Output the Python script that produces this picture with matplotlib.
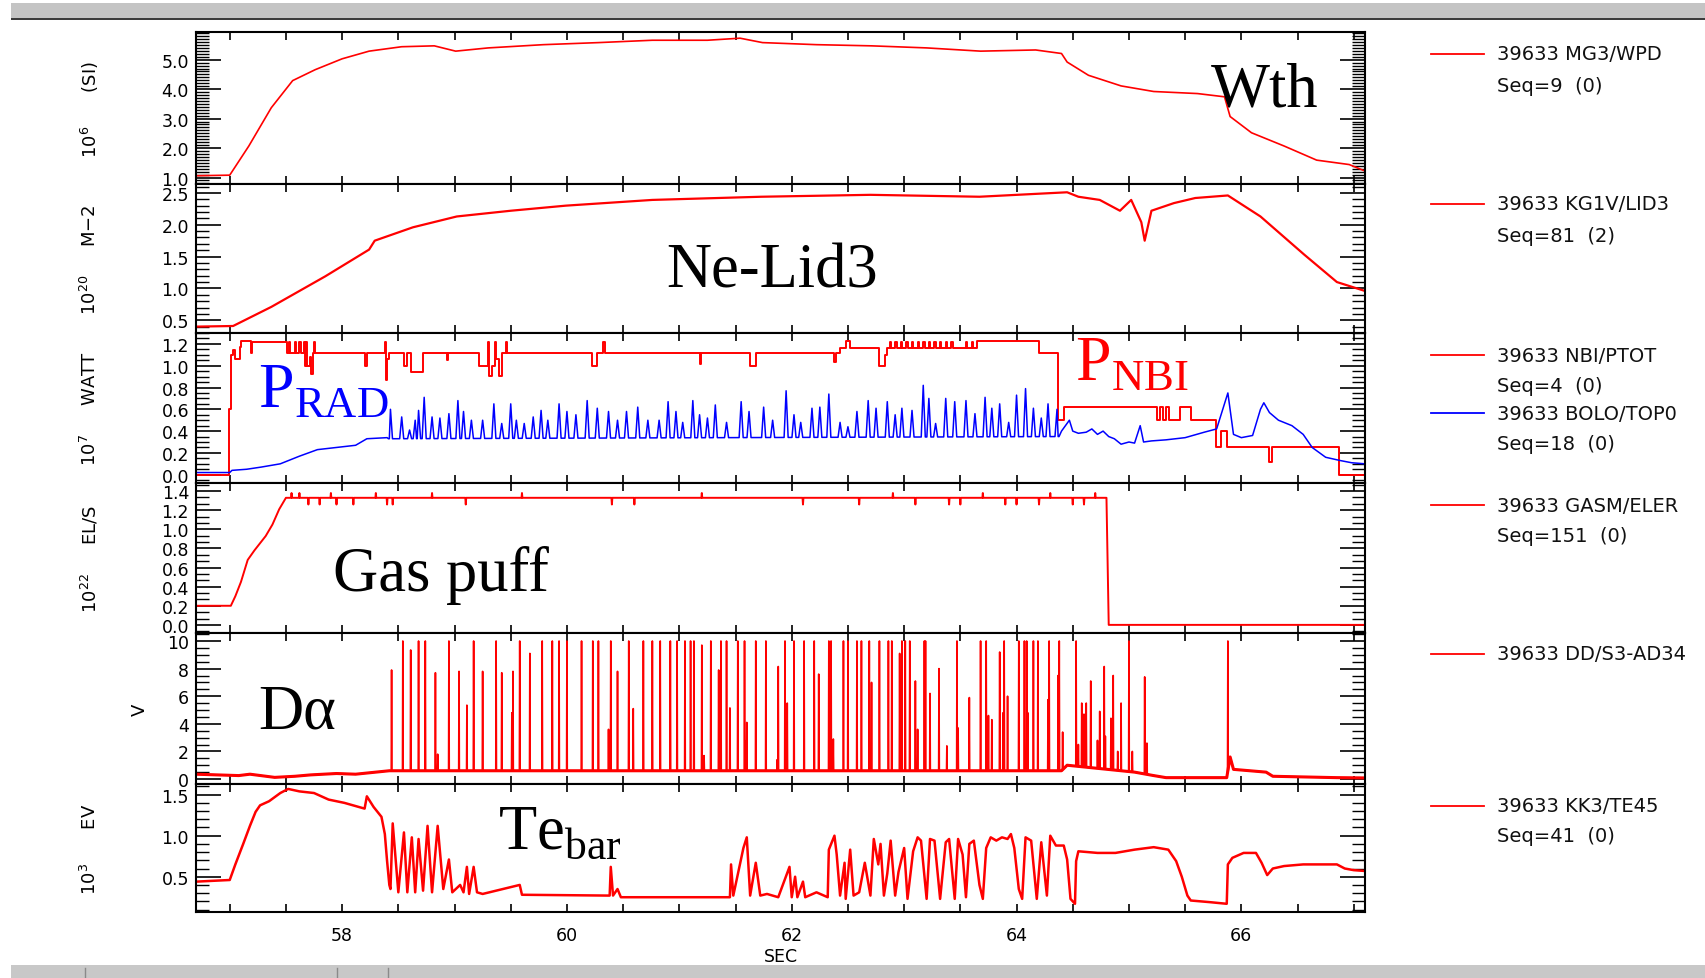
import numpy as np
import matplotlib
matplotlib.use('Agg')
import matplotlib.pyplot as plt
from matplotlib.ticker import MultipleLocator, AutoMinorLocator, FuncFormatter
from matplotlib.lines import Line2D
from matplotlib.patches import Rectangle

plt.rcParams['mathtext.fontset'] = 'custom'
plt.rcParams['mathtext.rm'] = 'Liberation Serif'
plt.rcParams['mathtext.sf'] = 'DejaVu Sans'

# ===================== Dados =====================
# tempo em segundos

# Wth  (10^6 SI)
wth_t = [56.70, 57.00, 57.17, 57.37, 57.56, 57.76, 58.00, 58.24, 58.53, 58.82, 59.01, 59.30,
         59.79, 60.28, 60.76, 61.25, 61.54, 61.74, 62.22, 62.71, 63.20, 63.68, 64.17, 64.40,
         64.45, 64.64, 64.93, 65.22, 65.61, 65.85, 65.90, 66.09, 66.38, 66.67, 66.96, 67.10]
wth_v = [1.06, 1.08, 2.07, 3.37, 4.29, 4.66, 5.03, 5.29, 5.44, 5.47, 5.29, 5.40,
         5.51, 5.58, 5.66, 5.66, 5.73, 5.58, 5.51, 5.47, 5.40, 5.29, 5.33, 5.21,
         4.92, 4.47, 4.11, 3.92, 3.85, 3.74, 3.07, 2.52, 2.07, 1.59, 1.44, 1.22]

# Ne-Lid3 (10^20 m-2)
ne_t = [56.70, 57.03, 57.37, 57.85, 58.24, 58.29, 58.63, 59.02, 59.50, 59.99, 60.76, 61.73,
        62.70, 63.67, 64.45, 64.55, 64.74, 64.92, 65.02, 65.11, 65.14, 65.20, 65.40, 65.59,
        65.88, 66.17, 66.56, 66.85, 67.10]
ne_v = [0.40, 0.41, 0.71, 1.19, 1.61, 1.75, 1.96, 2.13, 2.22, 2.30, 2.39, 2.44,
        2.47, 2.44, 2.51, 2.44, 2.39, 2.22, 2.39, 2.04, 1.75, 2.22, 2.34, 2.42,
        2.46, 2.13, 1.53, 1.10, 0.96]

# NBI/PTOT (10^7 W), degraus
nbi_t = [56.70, 56.99, 57.01, 57.03, 57.05, 57.09, 57.10, 57.19, 57.20, 57.51, 57.53, 57.54,
         57.58, 57.59, 57.62, 57.63, 57.66, 57.67, 57.68, 57.69, 57.71, 57.72, 57.74, 57.75,
         57.76, 58.20, 58.22, 58.38, 58.39, 58.40, 58.42, 58.55, 58.58, 58.61, 58.72, 58.93,
         58.94, 59.22, 59.30, 59.31, 59.33, 59.36, 59.37, 59.40, 59.42, 59.46, 59.47, 60.22,
         60.27, 60.32, 60.34, 61.18, 61.19, 61.63, 61.68, 62.38, 62.39, 62.43, 62.48, 62.52,
         62.78, 62.83, 62.85, 63.65, 64.20, 64.37, 64.42, 65.25, 65.28, 65.30, 65.33, 65.36,
         65.45, 65.55, 65.77, 65.82, 65.87, 66.25, 66.27, 66.87, 67.10]
nbi_v = [0.00, 0.60, 1.10, 1.14, 1.06, 1.17, 1.23, 1.12, 1.22, 1.12, 1.22, 1.12,
         1.22, 1.12, 1.22, 1.12, 1.22, 1.00, 1.22, 1.00, 1.08, 0.92, 1.12, 1.22,
         1.12, 1.00, 1.12, 1.22, 0.87, 1.06, 1.12, 1.00, 1.12, 0.94, 1.12, 1.05,
         1.12, 1.00, 1.22, 0.91, 1.00, 1.22, 1.06, 0.91, 1.12, 1.22, 1.12, 1.00,
         1.12, 1.22, 1.12, 1.02, 1.12, 1.00, 1.12, 1.03, 1.12, 1.16, 1.23, 1.16,
         1.00, 1.10, 1.16, 1.23, 1.12, 0.50, 0.62, 0.50, 0.62, 0.50, 0.62, 0.50,
         0.62, 0.50, 0.25, 0.40, 0.25, 0.12, 0.25, 0.00, 0.00]
nbi_comb_t = [62.87, 62.92, 62.97, 63.02, 63.07, 63.12, 63.17, 63.22, 63.27, 63.32,
              63.37, 63.42, 63.55, 63.60]
nbi_comb_v = 1.22

# BOLO/TOP0 (10^7 W): linha de base + picos
bolo_t = [56.70, 57.00, 57.02, 57.15, 57.28, 57.45, 57.62, 57.78, 57.95, 58.12, 58.22, 58.40,
          58.42, 64.37, 64.40, 64.47, 64.50, 64.55, 64.62, 64.67, 64.72, 64.77, 64.82, 64.87,
          64.93, 65.00, 65.05, 65.10, 65.13, 65.20, 65.33, 65.50, 65.67, 65.78, 65.88, 65.93,
          66.00, 66.10, 66.17, 66.20, 66.25, 66.33, 66.45, 66.55, 66.63, 66.75, 66.88, 66.98,
          67.10]
bolo_v = [0.02, 0.02, 0.04, 0.05, 0.07, 0.10, 0.17, 0.23, 0.25, 0.27, 0.33, 0.34,
          0.33, 0.35, 0.40, 0.50, 0.40, 0.38, 0.39, 0.42, 0.37, 0.40, 0.35, 0.33,
          0.28, 0.30, 0.29, 0.45, 0.30, 0.31, 0.32, 0.34, 0.39, 0.42, 0.75, 0.37,
          0.34, 0.36, 0.60, 0.66, 0.57, 0.50, 0.45, 0.37, 0.25, 0.16, 0.13, 0.11,
          0.10]
bolo_pk_t = [58.43, 58.53, 58.60, 58.65, 58.68, 58.73, 58.80, 58.87, 58.95, 59.03, 59.08, 59.15,
             59.25, 59.35, 59.42, 59.50, 59.55, 59.62, 59.70, 59.77, 59.83, 59.93, 60.00, 60.08,
             60.18, 60.27, 60.37, 60.45, 60.53, 60.63, 60.72, 60.82, 60.90, 60.97, 61.03, 61.12,
             61.18, 61.25, 61.32, 61.42, 61.55, 61.62, 61.75, 61.83, 61.95, 62.02, 62.08, 62.18,
             62.25, 62.33, 62.43, 62.50, 62.58, 62.68, 62.75, 62.85, 62.92, 62.98, 63.07, 63.17,
             63.22, 63.28, 63.37, 63.45, 63.55, 63.63, 63.72, 63.78, 63.85, 63.93, 64.00, 64.08,
             64.15, 64.22, 64.28, 64.36]
bolo_pk_v = [0.60, 0.53, 0.41, 0.50, 0.59, 0.71, 0.53, 0.52, 0.56, 0.68, 0.58, 0.50,
             0.50, 0.65, 0.47, 0.65, 0.50, 0.47, 0.53, 0.59, 0.50, 0.65, 0.58, 0.55,
             0.68, 0.61, 0.58, 0.50, 0.58, 0.62, 0.50, 0.50, 0.67, 0.58, 0.48, 0.68,
             0.55, 0.52, 0.64, 0.48, 0.67, 0.58, 0.62, 0.50, 0.77, 0.55, 0.48, 0.61,
             0.62, 0.74, 0.48, 0.44, 0.58, 0.68, 0.61, 0.67, 0.55, 0.61, 0.59, 0.82,
             0.70, 0.47, 0.70, 0.67, 0.68, 0.56, 0.71, 0.61, 0.65, 0.48, 0.73, 0.79,
             0.61, 0.52, 0.65, 0.60]

# GASM/ELER (10^22 el/s)
gas_t = [56.70, 57.01, 57.05, 57.10, 57.16, 57.22, 57.32, 57.38, 57.44, 57.50, 64.80, 64.82, 67.10]
gas_v = [0.20, 0.20, 0.30, 0.45, 0.68, 0.78, 0.93, 1.05, 1.21, 1.33, 1.33, 0.00, 0.00]
gas_dip_t = [57.70, 57.80, 57.95, 58.10, 58.40, 58.45, 59.10, 60.40, 60.60, 62.10, 62.60, 63.10,
             63.40, 63.50, 63.90, 64.00, 64.20, 64.50, 64.60]
gas_dip_v = 1.26
gas_up_t = [57.55, 57.62, 57.90, 58.30, 58.80, 59.60, 61.20, 62.90, 63.70, 64.30, 64.70]
gas_up_v = 1.38

# D-alpha (V): linha de base + picos
da_t = [56.70, 57.08, 57.18, 57.40, 57.58, 57.72, 57.95, 58.12, 58.42, 64.40, 64.45, 65.05,
        65.22, 65.33, 65.87, 65.90, 65.93, 66.22, 66.28, 66.85, 67.10]
da_v = [0.35, 0.25, 0.35, 0.12, 0.20, 0.30, 0.40, 0.35, 0.60, 0.60, 1.00, 0.50,
        0.25, 0.10, 0.10, 1.60, 0.70, 0.50, 0.20, 0.10, 0.08]
da_pk_t = [58.44, 58.54, 58.61, 58.68, 58.74, 58.83, 58.85, 58.95, 59.04, 59.11, 59.17, 59.25,
           59.37, 59.42, 59.51, 59.52, 59.58, 59.67, 59.78, 59.87, 59.93, 60.00, 60.13, 60.23,
           60.28, 60.37, 60.39, 60.45, 60.55, 60.59, 60.68, 60.76, 60.83, 60.92, 60.98, 61.05,
           61.10, 61.13, 61.20, 61.22, 61.28, 61.35, 61.37, 61.42, 61.45, 61.52, 61.58, 61.59,
           61.60, 61.68, 61.77, 61.87, 61.88, 61.94, 61.96, 62.02, 62.11, 62.20, 62.24, 62.33,
           62.35, 62.37, 62.46, 62.50, 62.58, 62.62, 62.69, 62.71, 62.78, 62.86, 62.89, 62.96,
           62.98, 63.01, 63.05, 63.10, 63.12, 63.18, 63.19, 63.23, 63.31, 63.38, 63.47, 63.48,
           63.58, 63.68, 63.73, 63.75, 63.78, 63.85, 63.88, 63.89, 63.92, 64.02, 64.07, 64.09,
           64.10, 64.15, 64.19, 64.28, 64.29, 64.37, 64.38, 64.41, 64.53, 64.55, 64.58, 64.60,
           64.62, 64.66, 64.72, 64.74, 64.78, 64.79, 64.84, 64.86, 64.90, 64.93, 65.00, 65.03,
           65.14, 65.16, 65.88]
da_pk_v = [7.9, 10.0, 9.35, 10.0, 10.0, 7.7, 1.8, 10.0, 7.8, 5.35, 10.0, 7.8,
           10.0, 7.7, 4.8, 7.8, 10.0, 9.1, 10.0, 10.0, 10.0, 10.0, 10.0, 10.0,
           10.0, 3.6, 10.0, 7.8, 10.0, 5.1, 10.0, 10.0, 10.0, 10.0, 10.0, 10.0,
           10.0, 10.0, 9.7, 1.7, 10.0, 7.9, 10.0, 10.0, 5.15, 10.0, 10.0, 2.76,
           4.1, 10.0, 10.0, 1.4, 8.15, 10.0, 5.5, 10.0, 10.0, 10.0, 7.6, 10.0,
           10.0, 2.9, 10.0, 10.0, 10.0, 10.0, 10.0, 7.0, 10.0, 10.0, 10.0, 9.1,
           10.0, 10.0, 10.0, 7.1, 3.6, 10.0, 10.0, 6.2, 8.0, 2.4, 10.0, 3.7,
           5.9, 10.0, 10.0, 4.6, 4.3, 9.2, 4.8, 10.0, 6.0, 10.0, 10.0, 10.0,
           4.8, 10.0, 10.0, 5.75, 10.0, 7.5, 10.0, 3.4, 10.0, 2.5, 5.5, 4.7,
           5.5, 7.1, 2.8, 4.9, 8.15, 3.1, 4.4, 7.5, 2.0, 5.5, 10.0, 2.0,
           7.4, 2.6, 10.0]

# KK3/TE45 (10^3 eV)
te_t = [56.70, 57.00, 57.05, 57.12, 57.18, 57.23, 57.27, 57.35, 57.45, 57.52, 57.62, 57.75,
        57.88, 58.02, 58.15, 58.20, 58.22, 58.28, 58.35, 58.38, 58.40, 58.42, 58.43, 58.45,
        58.50, 58.55, 58.58, 58.62, 58.65, 58.68, 58.72, 58.76, 58.80, 58.85, 58.90, 58.95,
        58.98, 59.05, 59.08, 59.11, 59.13, 59.17, 59.20, 59.25, 59.58, 59.60, 60.38, 60.39,
        60.41, 60.45, 60.48, 61.45, 61.46, 61.48, 61.57, 61.60, 61.63, 61.68, 61.72, 61.78,
        61.88, 61.98, 62.00, 62.03, 62.05, 62.10, 62.12, 62.22, 62.32, 62.33, 62.38, 62.40,
        62.43, 62.47, 62.48, 62.52, 62.55, 62.60, 62.65, 62.70, 62.73, 62.77, 62.79, 62.82,
        62.85, 62.88, 62.92, 62.95, 63.00, 63.03, 63.08, 63.12, 63.15, 63.20, 63.23, 63.27,
        63.32, 63.37, 63.40, 63.45, 63.48, 63.52, 63.55, 63.58, 63.62, 63.67, 63.70, 63.73,
        63.77, 63.82, 63.87, 63.92, 63.95, 63.98, 64.02, 64.05, 64.08, 64.13, 64.18, 64.22,
        64.27, 64.30, 64.35, 64.42, 64.45, 64.48, 64.52, 64.53, 64.55, 64.72, 64.88, 65.05,
        65.22, 65.35, 65.42, 65.47, 65.52, 65.55, 65.72, 65.87, 65.88, 65.92, 66.02, 66.13,
        66.18, 66.23, 66.28, 66.38, 66.55, 66.72, 66.85, 66.92, 67.00, 67.10]
te_v = [0.44, 0.46, 0.65, 0.90, 1.12, 1.29, 1.37, 1.42, 1.52, 1.57, 1.54, 1.52,
        1.44, 1.40, 1.35, 1.33, 1.48, 1.35, 1.23, 1.02, 0.69, 0.40, 0.35, 1.15,
        0.31, 1.04, 0.31, 0.98, 0.31, 0.96, 0.33, 1.12, 0.31, 1.12, 0.35, 0.71,
        0.31, 0.40, 0.31, 0.62, 0.29, 0.62, 0.31, 0.29, 0.40, 0.28, 0.27, 0.62,
        0.27, 0.35, 0.25, 0.25, 0.65, 0.27, 0.85, 0.98, 0.27, 0.67, 0.27, 0.29,
        0.25, 0.62, 0.25, 0.50, 0.25, 0.44, 0.25, 0.31, 0.25, 0.83, 1.00, 0.77,
        0.27, 0.67, 0.23, 0.83, 0.27, 0.31, 0.67, 0.27, 0.96, 0.65, 0.90, 0.27,
        0.54, 0.94, 0.27, 0.56, 0.85, 0.23, 0.81, 0.98, 0.94, 0.23, 0.96, 0.94,
        0.23, 0.92, 0.96, 0.23, 0.96, 0.77, 0.25, 0.90, 0.94, 0.40, 0.23, 0.85,
        0.98, 0.94, 0.98, 0.96, 1.02, 0.85, 0.35, 0.23, 0.98, 0.94, 0.23, 0.92,
        0.27, 1.00, 0.88, 0.88, 0.71, 0.23, 0.17, 0.69, 0.81, 0.79, 0.79, 0.83,
        0.86, 0.83, 0.69, 0.50, 0.27, 0.21, 0.19, 0.17, 0.65, 0.73, 0.79, 0.79,
        0.67, 0.52, 0.60, 0.63, 0.65, 0.65, 0.65, 0.60, 0.58, 0.57]

# ===================== Layout =====================
W, H = 1706, 979
L, R = 196, 1365
tops = [33, 185, 334, 484, 634, 785]
bots = [185, 334, 484, 634, 785, 913]
xlim = (56.70, 67.10)

ylims = [(0.78, 5.94), (0.30, 2.64), (-0.076, 1.30), (-0.085, 1.485), (-0.36, 10.58), (0.07, 1.63)]
ymajor = [1.0, 0.5, 0.2, 0.2, 2.0, 0.5]
ystart = [1.0, 0.5, 0.0, 0.0, 0.0, 0.5]
yminor = [10, 5, 4, 3, 4, 5]
yfmt = ['%.1f', '%.1f', '%.1f', '%.1f', '%d', '%.1f']
ylabels = [r'$\mathsf{10^{6}}$      (SI)', r'$\mathsf{10^{20}}$     M$\mathsf{-}$2',
           r'$\mathsf{10^{7}}$     WATT', r'$\mathsf{10^{22}}$     EL/S', 'V',
           r'$\mathsf{10^{3}}$      EV']
ylab_x = [90, 90, 90, 90, 140, 90]

RED = '#ff0000'
BLUE = '#0000ff'


def spikes(base_t, base_v, pk_t, pk_v, half):
    pts = list(zip(base_t, base_v))
    for t, v in zip(pk_t, pk_v):
        b = np.interp(t, base_t, base_v)
        pts += [(t - half, b), (t, v), (t + half, b)]
    pts.sort(key=lambda p: p[0])
    arr = np.array(pts)
    return arr[:, 0], arr[:, 1]


fig = plt.figure(figsize=(W / 100, H / 100), dpi=100)

# barras cinzas (janela)
fig.patches.append(Rectangle((11 / W, 1 - 19 / H), 1 - 11 / W, 15 / H, transform=fig.transFigure,
                             facecolor='#c4c4c4', edgecolor='none'))
fig.patches.append(Rectangle((11 / W, 1 - 21 / H), 1 - 11 / W, 2 / H, transform=fig.transFigure,
                             facecolor='#3c3c3c', edgecolor='none'))
fig.patches.append(Rectangle((11 / W, 0), 1 - 11 / W, 13 / H, transform=fig.transFigure,
                             facecolor='#c8c8c8', edgecolor='none'))
for xs in [85, 337, 388]:
    fig.lines.append(Line2D([xs / W, xs / W], [0, 10 / H], transform=fig.transFigure,
                            color='#8a8a8a', lw=1))

axes = []
for i in range(6):
    ax = fig.add_axes([L / W, 1 - bots[i] / H, (R - L) / W, (bots[i] - tops[i]) / H])
    ax.set_xlim(*xlim)
    ax.set_ylim(*ylims[i])
    lo, hi = ylims[i]
    ax.set_yticks(np.arange(ystart[i], hi + 1e-6, ymajor[i]))
    ax.yaxis.set_minor_locator(AutoMinorLocator(yminor[i]))
    ax.yaxis.set_major_formatter(FuncFormatter(lambda v, p, f=yfmt[i]: f % v))
    ax.xaxis.set_major_locator(MultipleLocator(0.5))
    ax.tick_params(axis='y', which='major', direction='in', length=18, width=1.2,
                   left=True, right=True, labelsize=12.5, pad=5)
    ax.tick_params(axis='y', which='minor', direction='in', length=9.5, width=1.0,
                   left=True, right=True)
    ax.tick_params(axis='x', which='major', direction='in', length=6, width=1.2,
                   top=True, bottom=True, labelsize=12.5, pad=10)
    if i < 5:
        ax.tick_params(axis='x', labelbottom=False)
    else:
        ax.xaxis.set_major_formatter(FuncFormatter(
            lambda v, p: '%d' % round(v) if abs(v - round(v)) < 1e-6 and round(v) % 2 == 0 else ''))
        ax.set_xlabel('SEC', fontsize=12.5, labelpad=2)
    for s in ax.spines.values():
        s.set_linewidth(1.5)
    fig.text(ylab_x[i] / W, 1 - (tops[i] + bots[i]) / 2 / H, ylabels[i], rotation=90,
             ha='center', va='center', fontsize=13)
    axes.append(ax)

ax1, ax2, ax3, ax4, ax5, ax6 = axes

ax1.plot(wth_t, wth_v, color=RED, lw=1.2)
ax2.plot(ne_t, ne_v, color=RED, lw=1.6)

nt, nv = list(nbi_t), list(nbi_v)
for t in nbi_comb_t:
    nt += [t, t + 0.012]
    nv += [nbi_comb_v, 1.16]
order = np.argsort(nt, kind='stable')
ax3.plot(np.array(nt)[order], np.array(nv)[order], color=RED, lw=1.4, drawstyle='steps-post')
bt, bv = spikes(bolo_t, bolo_v, bolo_pk_t, bolo_pk_v, 0.018)
ax3.plot(bt, bv, color=BLUE, lw=1.1)

gt, gv = spikes(gas_t, gas_v, gas_dip_t + gas_up_t,
                [gas_dip_v] * len(gas_dip_t) + [gas_up_v] * len(gas_up_t), 0.004)
ax4.plot(gt, gv, color=RED, lw=1.4)

dt, dv = spikes(da_t, da_v, da_pk_t, da_pk_v, 0.003)
ax5.plot(da_t, da_v, color=RED, lw=2.2)
ax5.plot(dt, dv, color=RED, lw=1.2)

ax6.plot(te_t, te_v, color=RED, lw=1.8)

# anotacoes
serif = 'Liberation Serif'
ax1.text(0.868, 0.516, 'Wth', transform=ax1.transAxes, fontsize=45, family=serif, va='baseline')
ax2.text(0.402, 0.309, 'Ne-Lid3', transform=ax2.transAxes, fontsize=45, family=serif, va='baseline')
ax3.text(0.053, 0.507, r'$\mathrm{P}_{\mathrm{RAD}}$', transform=ax3.transAxes, fontsize=46,
         color=BLUE, va='baseline')
ax3.text(0.752, 0.687, r'$\mathrm{P}_{\mathrm{NBI}}$', transform=ax3.transAxes, fontsize=46,
         color=RED, va='baseline')
ax4.text(0.117, 0.287, 'Gas puff', transform=ax4.transAxes, fontsize=45, family=serif, va='baseline')
ax5.text(0.053, 0.371, 'D\u03b1', transform=ax5.transAxes, fontsize=45, family=serif, va='baseline')
ax6.text(0.258, 0.50, r'$\mathrm{Te}_{\mathrm{bar}}$', transform=ax6.transAxes, fontsize=45,
         va='baseline')

# legenda a direita
leg = [(55, RED, '39633 MG3/WPD'), (87, None, 'Seq=9  (0)'),
       (205, RED, '39633 KG1V/LID3'), (237, None, 'Seq=81  (2)'),
       (356, RED, '39633 NBI/PTOT'), (387, None, 'Seq=4  (0)'),
       (414, BLUE, '39633 BOLO/TOP0'), (445, None, 'Seq=18  (0)'),
       (506, RED, '39633 GASM/ELER'), (537, None, 'Seq=151  (0)'),
       (655, RED, '39633 DD/S3-AD34'),
       (807, RED, '39633 KK3/TE45'), (837, None, 'Seq=41  (0)')]
for y, c, txt in leg:
    if c is not None:
        fig.lines.append(Line2D([1431 / W, 1484 / W], [1 - y / H, 1 - y / H],
                                transform=fig.transFigure, color=c, lw=1.3))
    fig.text(1497 / W, 1 - y / H, txt, fontsize=14, ha='left', va='center', color='#111111')

fig.savefig('out.png', dpi=100)
